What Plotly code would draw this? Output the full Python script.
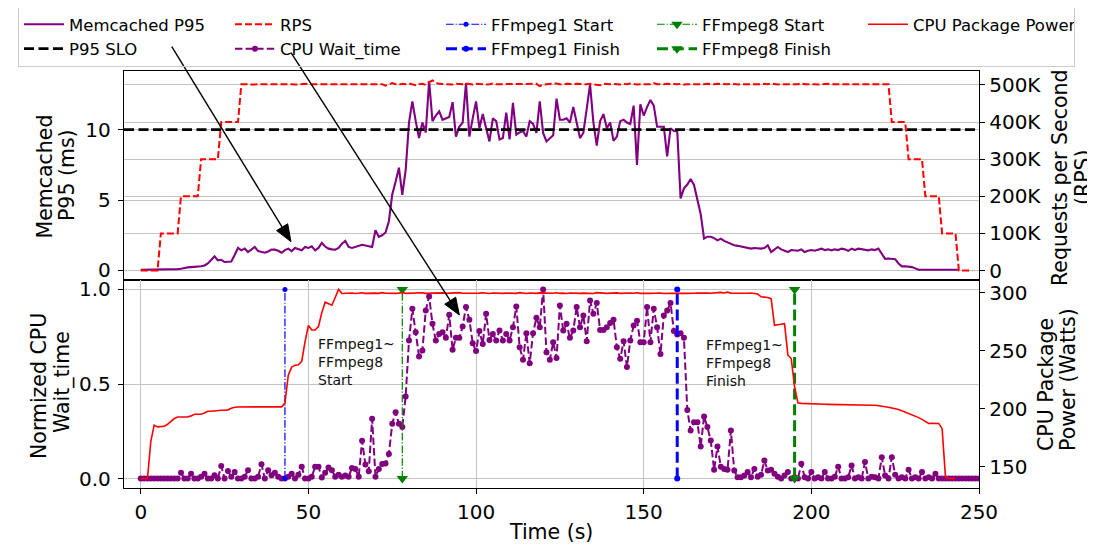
import plotly.graph_objects as go

# ---------------- data ----------------
p95_ms = [
    0.05, 0.05, 0.05, 0.05, 0.05, 0.05, 0.06, 0.06, 0.07, 0.08,
    0.08, 0.10, 0.12, 0.18, 0.22, 0.24, 0.25, 0.28, 0.30, 0.36,
    0.50, 0.75, 1.00, 0.72, 0.76, 0.60, 0.62, 0.64, 1.10, 1.60,
    1.43, 1.55, 1.31, 1.50, 1.67, 1.38, 1.32, 1.26, 1.35, 1.48,
    1.48, 1.40, 1.26, 1.45, 1.55, 1.38, 1.60, 1.50, 1.43, 1.67,
    1.60, 1.71, 1.43, 1.60, 1.95, 1.70, 1.55, 1.50, 1.48, 1.60,
    1.90, 2.10, 1.67, 1.60, 1.67, 1.75, 1.83, 1.78, 1.72, 1.67,
    2.86, 2.38, 2.50, 2.70, 3.50, 5.40, 6.30, 7.30, 5.36, 7.10,
    10.5, 12.0, 10.6, 9.40, 10.5, 9.80, 13.45, 10.6, 11.0, 11.3,
    10.7, 10.8, 10.9, 11.95, 9.50, 10.2, 10.5, 13.3, 9.50, 10.8,
    12.0, 10.1, 11.1, 10.1, 9.16, 10.8, 10.6, 9.30, 9.40, 11.2,
    9.30, 11.9, 9.64, 9.80, 9.90, 9.50, 10.6, 10.4, 9.76, 12.0,
    9.76, 9.16, 9.40, 9.60, 12.2, 10.7, 10.7, 10.8, 10.5, 11.6,
    10.5, 9.40, 9.76, 11.5, 13.2, 10.5, 8.86, 10.6, 11.1, 10.1,
    10.5, 9.20, 9.50, 10.6, 10.7, 10.5, 10.4, 11.7, 7.50, 11.8,
    11.0, 11.6, 12.1, 11.7, 10.2, 10.2, 10.2, 8.10, 10.1, 9.90,
    9.88, 5.12, 5.83, 6.10, 6.50, 6.07, 5.10, 4.00, 2.26, 2.40,
    2.40, 2.30, 2.14, 2.26, 2.10, 2.00, 1.90, 1.79, 1.75, 1.70,
    1.67, 1.60, 1.55, 1.60, 1.55, 1.55, 1.60, 1.79, 1.31, 1.50,
    1.67, 1.50, 1.40, 1.31, 1.45, 1.43, 1.40, 1.50, 1.31, 1.40,
    1.45, 1.40, 1.50, 1.55, 1.45, 1.50, 1.43, 1.50, 1.45, 1.55,
    1.50, 1.40, 1.55, 1.45, 1.55, 1.50, 1.45, 1.43, 1.50, 1.45,
    1.55, 1.20, 0.83, 0.85, 0.83, 0.80, 0.50, 0.29, 0.30, 0.28,
    0.24, 0.15, 0.05, 0.05, 0.05, 0.05, 0.05, 0.05, 0.05, 0.05,
    0.05, 0.05, 0.05, 0.05, 0.05,
]

rps_k = [
    0, 0, 0, 0, 0, 0,
    100, 100, 100, 100, 100, 100,
    200, 200, 200, 200, 200, 200,
    300, 300, 300, 300, 300, 300,
    400, 400, 400, 400, 400, 400,
    502, 503, 502, 501, 502, 503, 502, 502, 501, 502,
    502, 503, 502, 502, 503, 502, 501, 502, 502, 503,
    502, 502, 503, 502, 501, 502, 502, 503, 502, 502,
    501, 502, 503, 502, 502, 502, 501, 502, 503, 502,
    502, 503, 502, 498, 502, 505, 502, 501, 503, 502,
    504, 502, 499, 502, 503, 500, 508, 512, 506, 503,
    502, 503, 502, 501, 503, 502, 502, 504, 502, 501,
    503, 502, 502, 501, 502, 504, 502, 502, 503, 502,
    501, 502, 503, 502, 502, 501, 502, 502, 503, 497,
    501, 502, 503, 502, 504, 502, 501, 503, 502, 502,
    503, 502, 501, 502, 503, 502, 502, 499, 503, 502,
    502, 503, 502, 501, 503, 502, 504, 502, 501, 502,
    503, 502, 502, 505, 502, 501, 502, 503, 502, 502,
    502, 503, 501, 502, 503, 502, 502, 501, 502, 503,
    502, 502, 503, 502, 501, 502, 503, 502, 502, 501,
    502, 503, 502, 502, 501, 502, 503, 502, 504, 502,
    501, 502, 503, 502, 502, 501, 502, 505, 502, 502,
    503, 502, 501, 502, 502, 503, 502, 502, 501, 502,
    503, 502, 502, 501, 502, 503, 502, 502, 501, 502,
    502, 503, 502, 502,
    400, 400, 400, 400, 400,
    300, 300, 300, 300, 300,
    200, 200, 200, 200, 200,
    100, 100, 100, 100, 100,
    0, 0, 0, 0, 0,
]

cpu_wait = [
    0, 0, 0, 0, 0, 0, 0, 0, 0, 0,
    0, 0, 0.03, 0, 0, 0.025, 0, 0, 0.01, 0.025,
    0, 0, 0.018, 0, 0.066, 0, 0.04, 0.01, 0.035, 0,
    0, 0.01, 0.044, 0, 0, 0.01, 0.075, 0, 0.044, 0.018,
    0.03, 0.01, 0, 0, 0.01, 0.025, 0, 0.02, 0.062, 0,
    0, 0.01, 0.062, 0.062, 0.005, 0.03, 0.058, 0.044, 0.01, 0.02,
    0.01, 0.016, 0.01, 0.056, 0.05, 0.01, 0.2, 0.074, 0.039, 0.316,
    0.01, 0.05, 0.077, 0.08, 0.13, 0.29, 0.351, 0.29, 0.272, 0.434,
    0.73, 0.898, 0.774, 0.646, 0.677, 0.889, 0.963, 0.818, 0.73, 0.765,
    0.774, 0.744, 0.866, 0.681, 0.744, 0.744, 0.804, 0.907, 0.84, 0.716,
    0.674, 0.78, 0.712, 0.871, 0.733, 0.765, 0.73, 0.783, 0.73, 0.765,
    0.73, 0.8, 0.91, 0.695, 0.628, 0.769, 0.61, 0.769, 0.85, 0.8,
    1.0, 0.668, 0.628, 0.721, 0.638, 0.915, 0.783, 0.818, 0.744, 0.783,
    0.907, 0.8, 0.862, 0.726, 0.942, 0.871, 0.928, 0.786, 0.786, 0.80,
    0.822, 0.84, 0.695, 0.633, 0.726, 0.59, 0.73, 0.809, 0.835, 0.721,
    0.721, 0.907, 0.721, 0.898, 0.8, 0.659, 0.862, 0.889, 0.928, 0.78,
    0.762, 0.769, 0.744, 0.363, 0.254, 0.298, 0.298, 0.17, 0.328, 0.272,
    0.201, 0.046, 0.17, 0.063, 0.051, 0.046, 0.254, 0.042, 0.007, 0.007,
    0.016, 0.034, 0.007, 0.051, 0.01, 0.02, 0.095, 0.042, 0.046, 0.025,
    0.01, 0, 0.016, 0.034, 0, 0.007, 0, 0.078, 0.007, 0,
    0.034, 0, 0.007, 0, 0.034, 0, 0, 0.01, 0.063, 0,
    0, 0.007, 0.069, 0, 0.007, 0, 0.087, 0, 0.01, 0.007,
    0, 0.113, 0.016, 0, 0.113, 0.02, 0, 0.007, 0, 0.046,
    0, 0.007, 0, 0.034, 0, 0.007, 0, 0.025, 0, 0,
    0, 0, 0, 0, 0, 0, 0, 0, 0, 0,
    0,
]

power_w = [
    140, 140, 140, 172, 186, 184.5, 185, 185, 186.8, 189,
    191.7, 193, 193.1, 193, 193.1, 194, 195.4, 195.4, 195.4, 196.5,
    198, 198, 198.5, 198.9, 198.9, 198.9, 199.2, 200.5, 201.5, 201.7,
    201.7, 201.7, 201.8, 201.7, 201.7, 201.8, 201.7, 201.7, 201.7, 201.8,
    201.7, 201.7, 201.8, 205, 229, 236, 237.7, 238, 241, 258,
    272, 268, 268, 271, 283, 292, 291, 289.4, 296, 303,
    299.5, 299.8, 299.6, 299.9, 299.5, 299.7, 300.1, 299.6, 299.8, 299.5,
    299.8, 299.6, 300.2, 299.7, 299.5, 299.9, 299.6, 299.8, 300.3, 299.6,
    299.7, 299.9, 299.5, 299.8, 300.1, 299.6, 299.7, 299.9, 299.5, 299.8,
    300.0, 299.6, 299.8, 299.5, 299.9, 300.2, 299.7, 299.6, 299.8, 299.9,
    299.6, 299.8, 300.1, 299.7, 299.5, 299.9, 299.7, 300.0, 299.6, 299.8,
    299.7, 299.9, 299.6, 300.2, 299.8, 299.5, 299.9, 299.7, 299.6, 300.0,
    299.8, 299.6, 299.9, 299.7, 300.1, 299.6, 299.8, 299.5, 299.9, 299.7,
    300.0, 299.6, 299.8, 299.7, 299.9, 299.5, 300.2, 299.7, 299.8, 299.6,
    299.9, 299.7, 300.0, 299.6, 299.8, 299.5, 299.9, 299.7, 300.1, 299.6,
    299.8, 299.9, 299.6, 299.7, 300.0, 299.8, 299.5, 299.9, 299.7, 299.6,
    299.8, 300.1, 299.7, 299.6, 299.9, 299.7, 299.8, 300.0, 299.6, 299.8,
    299.7, 299.9, 299.6, 300.4, 299.9, 300.6, 299.8, 299.7, 299.9, 299.6,
    299.8, 299.7, 299.9, 299.6, 299.0, 296.6, 296.4, 296.0, 295.0, 272.0,
    272.5, 273.0, 273.4, 246.3, 243.4, 219.0, 205.2, 204.8, 204.6, 204.5,
    204.4, 204.3, 204.2, 204.1, 204.0, 203.9, 203.8, 203.7, 203.6, 203.5,
    203.4, 203.3, 203.3, 203.2, 203.2, 203.2, 203.1, 203.2, 203.2, 203.1,
    202.8, 202.4, 202.0, 201.5, 200.8, 200.3, 199.5, 198.5, 197.4, 196.0,
    194.6, 193.5, 192.5, 191.0, 189.5, 187.4, 187.6, 187.8, 187.5, 183.0,
    141.4, 140.0, 140.0, 140.0,
]

# one sample per second, starting at t = 0
p95_time = list(range(len(p95_ms)))
rps_time = list(range(len(rps_k)))
wait_time_s = list(range(len(cpu_wait)))
power_time = list(range(len(power_w)))

slo_ms = 10
event_labels = ["FFmpeg1 Start", "FFmpeg8 Start", "FFmpeg1 Finish", "FFmpeg8 Finish"]
event_times = [43, 78, 160, 195]

x_ticks = [0, 50, 100, 150, 200, 250]
p95_ticks = [0, 5, 10]
rps_ticks = [0, 100, 200, 300, 400, 500]
rps_ticktext = ["0", "100K", "200K", "300K", "400K", "500K"]
wait_ticks = [0.0, 0.5, 1.0]
wait_ticktext = ["0.0", "0.5", "1.0"]
power_ticks = [150, 200, 250, 300]

x_range = [-5, 250]
p95_range = [-0.675, 14.16]
rps_range = [-25.6, 537.6]
wait_range = [-0.05, 1.05]
power_range = [131.85, 311.1]

# ---------------- layout helpers ----------------
# the page body has an 8 px margin, so the figure is drawn from (8, 8)
OFF = 8
W, H = 1095 - OFF, 545 - OFF
FONT = "DejaVu Sans"


def fx(p):
    """window pixel x -> paper fraction"""
    return (p - OFF) / W


def fy(p):
    """window pixel y -> paper fraction"""
    return 1 - (p - OFF) / H


PLOT_L, PLOT_R = 124, 979
TOP_T, MID, BOT_B = 71, 280, 488

fig = go.Figure()

# top panel
fig.add_trace(go.Scatter(x=p95_time, y=p95_ms, mode="lines", name="Memcached P95",
                         line=dict(color="purple", width=2.1), xaxis="x", yaxis="y",
                         legendrank=1))
fig.add_trace(go.Scatter(x=x_range, y=[slo_ms, slo_ms], mode="lines", name="P95 SLO",
                         line=dict(color="black", width=2.8, dash="10px,4.5px"),
                         xaxis="x", yaxis="y", legendrank=6))
fig.add_trace(go.Scatter(x=rps_time, y=rps_k, mode="lines", name="RPS",
                         line=dict(color="red", width=2, dash="7px,3px"),
                         xaxis="x", yaxis="y2", legendrank=2))

# bottom panel
fig.add_trace(go.Scatter(x=wait_time_s, y=cpu_wait, mode="lines+markers", name="CPU Wait_time",
                         line=dict(color="purple", width=2, dash="7.4px,3.2px"),
                         marker=dict(color="purple", size=6),
                         xaxis="x2", yaxis="y3", legendrank=7))

event_styles = {
    "FFmpeg1 Start": dict(color="blue", width=1.2, dash="7.7px,1.9px,1.2px,1.9px",
                          symbol="circle", size=5, rank=3),
    "FFmpeg8 Start": dict(color="green", width=1.2, dash="7.7px,1.9px,1.2px,1.9px",
                          symbol="triangle-down", size=10, rank=4),
    "FFmpeg1 Finish": dict(color="blue", width=3, dash="11px,4.8px",
                           symbol="circle", size=6, rank=8),
    "FFmpeg8 Finish": dict(color="green", width=3, dash="11px,4.8px",
                           symbol="triangle-down", size=10, rank=9),
}
for label, t in zip(event_labels, event_times):
    s = event_styles[label]
    fig.add_trace(go.Scatter(x=[t, t], y=[wait_ticks[0], wait_ticks[-1]], mode="lines+markers",
                             name=label,
                             line=dict(color=s["color"], width=s["width"], dash=s["dash"]),
                             marker=dict(color=s["color"], symbol=s["symbol"], size=s["size"]),
                             xaxis="x2", yaxis="y3", legendrank=s["rank"]))

fig.add_trace(go.Scatter(x=power_time, y=power_w, mode="lines", name="CPU Package Power",
                         line=dict(color="red", width=1.6), xaxis="x2", yaxis="y4",
                         legendrank=5))

tick_font = dict(family=FONT, size=20, color="black")
grid_c = "#c4c4c4"
common_axis = dict(showline=True, linecolor="black", linewidth=1.4, zeroline=False,
                   tickfont=tick_font, tickcolor="black", tickwidth=1.2, ticklen=5)

fig.update_layout(
    width=W, height=H,
    margin=dict(l=0, r=0, t=0, b=0, autoexpand=False),
    paper_bgcolor="white", plot_bgcolor="white",
    font=dict(family=FONT, color="black"),
    xaxis=dict(domain=[fx(PLOT_L), fx(PLOT_R)], range=x_range, anchor="y",
               showticklabels=False, ticks="", showgrid=False, mirror=True,
               showline=True, linecolor="black", linewidth=1.4, zeroline=False),
    yaxis=dict(domain=[fy(MID), fy(TOP_T)], range=p95_range, anchor="x",
               tickvals=p95_ticks, ticks="outside", showgrid=True, gridcolor=grid_c,
               gridwidth=1, mirror=True, ticklabelstandoff=3, **common_axis),
    yaxis2=dict(overlaying="y", side="right", anchor="x", range=rps_range,
                tickvals=rps_ticks, ticktext=rps_ticktext, ticks="outside",
                showgrid=True, gridcolor=grid_c, gridwidth=1, ticklabelstandoff=0,
                **common_axis),
    xaxis2=dict(domain=[fx(PLOT_L), fx(PLOT_R)], range=x_range, anchor="y3",
                tickvals=x_ticks, ticks="outside", showgrid=True, gridcolor=grid_c,
                gridwidth=1, mirror=True, ticklabelstandoff=1, **common_axis),
    yaxis3=dict(domain=[fy(BOT_B), fy(MID)], range=wait_range, anchor="x2",
                tickvals=wait_ticks, ticktext=wait_ticktext, ticks="outside",
                showgrid=True, gridcolor=grid_c, gridwidth=1, mirror=True,
                ticklabelstandoff=3, **common_axis),
    yaxis4=dict(overlaying="y3", side="right", anchor="x2", range=power_range,
                tickvals=power_ticks, ticks="outside", showgrid=False,
                ticklabelstandoff=0, **common_axis),
    showlegend=True,
    legend=dict(orientation="h", x=fx(18), y=fy(6), xanchor="left", yanchor="top",
                bgcolor="rgba(255,255,255,0)", bordercolor="#cccccc", borderwidth=1,
                font=dict(family=FONT, size=16.5, color="black"),
                entrywidth=156, entrywidthmode="pixels", itemwidth=40,
                traceorder="normal"),
)

annotations = []
# axis titles (one annotation per line)
title_lines = [
    ("Memcached", 44.5, 177),
    ("P95 (ms)", 67, 175),
    ("Normized CPU", 39, 386),
    ("Wait_time", 62, 382),
    ("Requests per Second", 1060, 178),
    ("(RPS)", 1083, 177),
    ("CPU Package", 1046, 385),
    ("Power (Watts)", 1068, 380),
]
for text, cx, cy in title_lines:
    annotations.append(dict(text=text, x=fx(cx), y=fy(cy), xref="paper", yref="paper",
                            xanchor="center", yanchor="middle", textangle=-90,
                            showarrow=False, font=dict(family=FONT, size=20.5, color="black")))
annotations.append(dict(text="Time (s)", x=fx(551), y=fy(532), xref="paper", yref="paper",
                        xanchor="center", yanchor="middle", showarrow=False,
                        font=dict(family=FONT, size=20.5, color="black")))
# event notes inside the bottom panel
annotations.append(dict(text="FFmpeg1~<br>FFmpeg8<br>Start", x=52.2, y=0.615, xref="x2", yref="y3",
                        xanchor="left", yanchor="middle", align="left", showarrow=False,
                        font=dict(family=FONT, size=14, color="#111111")))
annotations.append(dict(text="FFmpeg1~<br>FFmpeg8<br>Finish", x=168.1, y=0.61, xref="x2", yref="y3",
                        xanchor="left", yanchor="middle", align="left", showarrow=False,
                        font=dict(family=FONT, size=14, color="#111111")))
fig.update_layout(annotations=annotations)

# pointer arrows from the legend entries into the panels
shapes = []


def add_arrow(x0, y0, x1, y1, head_len=17.0, head_w=13.0):
    dx, dy = x1 - x0, y1 - y0
    length = (dx * dx + dy * dy) ** 0.5
    ux, uy = dx / length, dy / length
    bx, by = x1 - ux * head_len, y1 - uy * head_len
    nx, ny = -uy, ux
    shapes.append(dict(type="line", xref="paper", yref="paper",
                       x0=fx(x0), y0=fy(y0), x1=fx(bx), y1=fy(by),
                       line=dict(color="black", width=1.4)))
    pts = [(x1, y1), (bx + nx * head_w / 2, by + ny * head_w / 2),
           (bx - nx * head_w / 2, by - ny * head_w / 2)]
    path = "M {} {} L {} {} L {} {} Z".format(*[v for p in pts for v in (fx(p[0]), fy(p[1]))])
    shapes.append(dict(type="path", xref="paper", yref="paper", path=path,
                       fillcolor="black", line=dict(color="black", width=1)))


add_arrow(171.8, 46.7, 291, 241.7)
add_arrow(291, 52.7, 459.4, 315)
fig.update_layout(shapes=shapes)

fig.write_html("out.html")
